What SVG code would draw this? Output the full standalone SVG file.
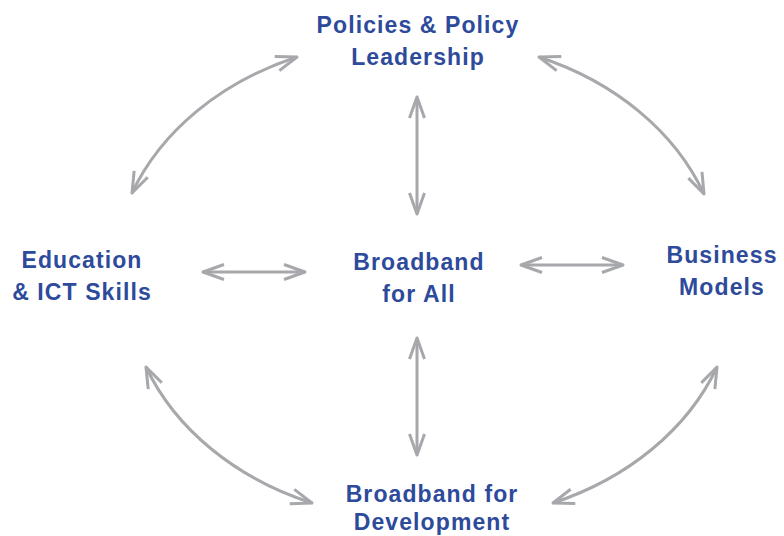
<svg xmlns="http://www.w3.org/2000/svg" width="784" height="536" viewBox="0 0 784 536">
<style>
.lbl{font-family:"Liberation Sans",Arial,sans-serif;font-weight:bold;font-size:23px;fill:#2d4a9b;text-anchor:middle;letter-spacing:1.1px}
.con{fill:none;stroke:#a7a8ab;stroke-width:3;marker-start:url(#chev);marker-end:url(#chev)}
</style>
<defs>
<marker id="chev" markerUnits="userSpaceOnUse" orient="auto-start-reverse" refX="0" refY="0" markerWidth="30" markerHeight="30" viewBox="-25 -12 30 24" overflow="visible">
<path d="M-21,-7.5 L0,0 L-21,7.5" fill="none" stroke="#a7a8ab" stroke-width="3" stroke-linecap="butt" stroke-linejoin="round"/>
</marker>
</defs>
<rect width="784" height="536" fill="#ffffff"/>
<g id="connectors">
<path class="con" d="M132,193 A295 238 0 0 1 297,57"/>
<path class="con" d="M539,57 A295 238 0 0 1 704,194"/>
<path class="con" d="M717,367 A295 238 0 0 1 553,503"/>
<path class="con" d="M312,503 A295 238 0 0 1 146,367"/>
<path class="con" d="M417,97 L417,214"/>
<path class="con" d="M417,338 L417,455"/>
<path class="con" d="M203,272 L305,272"/>
<path class="con" d="M521,265 L623,265"/>
</g>
<g id="policies"><text class="lbl" x="418" y="33">Policies &amp; Policy</text><text class="lbl" x="418" y="65">Leadership</text></g>
<g id="education"><text class="lbl" x="82" y="268">Education</text><text class="lbl" x="82" y="300">&amp; ICT Skills</text></g>
<g id="broadband-all"><text class="lbl" x="419" y="270">Broadband</text><text class="lbl" x="419" y="302">for All</text></g>
<g id="business"><text class="lbl" x="722" y="263">Business</text><text class="lbl" x="722" y="295">Models</text></g>
<g id="broadband-dev"><text class="lbl" x="432" y="502">Broadband for</text><text class="lbl" x="432" y="530">Development</text></g>
</svg>
